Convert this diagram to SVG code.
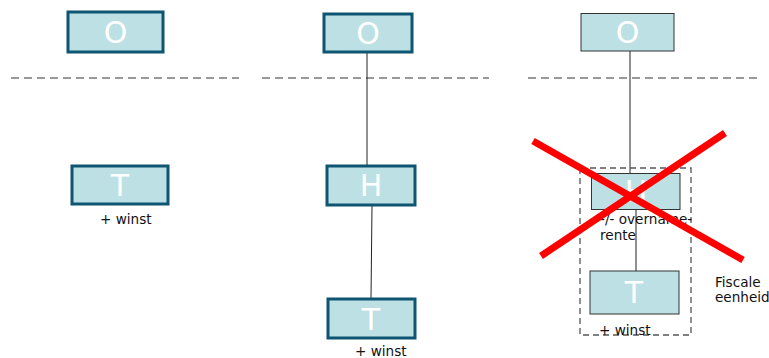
<svg xmlns="http://www.w3.org/2000/svg" width="769" height="358" viewBox="0 0 769 358">
<style>
.box{fill:#bde0e4;stroke:#0d5570;stroke-width:3}
.thin{fill:#bde0e4;stroke:#333;stroke-width:1}
.lbl{font-family:"DejaVu Sans",Verdana,sans-serif;font-size:30px;fill:#fff;text-anchor:middle}
.t{font-family:"DejaVu Sans",Verdana,sans-serif;font-size:13.6px;fill:#111}
.dash{stroke:#777;stroke-width:1.5;stroke-dasharray:8 5;fill:none}
.con{stroke:#222;stroke-width:1;fill:none}
.x{stroke:#ff0000;stroke-width:7;stroke-linecap:butt}
</style>
<rect width="769" height="358" fill="#fff"/>
<g id="separators">
<line class="dash" x1="11" y1="78" x2="239" y2="78"/>
<line class="dash" x1="262" y1="78" x2="489" y2="78"/>
<line class="dash" x1="528" y1="78" x2="757" y2="78"/>
</g>
<g id="connectors">
<line class="con" x1="367" y1="52" x2="367" y2="166"/>
<line class="con" x1="372" y1="206" x2="371" y2="298"/>
<line class="con" x1="630" y1="51" x2="630" y2="173"/>
<line class="con" x1="636" y1="209" x2="636" y2="284"/>
</g>
<g id="p1-O"><rect class="box" x="68" y="12" width="95" height="40"/><text class="lbl" x="115.5" y="43">O</text></g>
<g id="p1-T"><rect class="box" x="72" y="166" width="96" height="38"/><text class="lbl" x="120" y="196">T</text><text class="t" x="100" y="224">+ winst</text></g>
<g id="p2-O"><rect class="box" x="324" y="14" width="88" height="38"/><text class="lbl" x="368" y="44">O</text></g>
<g id="p2-H"><rect class="box" x="327" y="166" width="88" height="39"/><text class="lbl" x="371" y="196">H</text></g>
<g id="p2-T"><rect class="box" x="328" y="299" width="87" height="39"/><text class="lbl" x="371" y="330">T</text><text class="t" x="355" y="356">+ winst</text></g>
<g id="p3-O"><rect class="thin" x="581" y="13.5" width="93" height="37.5"/><text class="lbl" x="627.5" y="43">O</text></g>
<g id="fiscale-eenheid">
<rect x="580" y="168" width="111" height="167" fill="none" stroke="#555" stroke-width="1.3" stroke-dasharray="6 4"/>
<text class="t" x="715" y="287">Fiscale</text>
<text class="t" x="715" y="302">eenheid</text>
</g>
<g id="p3-H"><rect class="thin" x="591.5" y="173.5" width="88.5" height="36"/><text class="lbl" x="636" y="202">H</text><text class="t" x="600" y="224">-/- overname-</text><text class="t" x="600" y="240">rente</text></g>
<g id="p3-T"><rect class="thin" x="590" y="271" width="89" height="43"/><text class="lbl" x="634" y="303">T</text><text class="t" x="599" y="335">+ winst</text></g>
<g id="cross">
<line class="x" x1="533" y1="141" x2="743" y2="260"/>
<line class="x" x1="541" y1="256" x2="725" y2="133"/>
</g>
</svg>
